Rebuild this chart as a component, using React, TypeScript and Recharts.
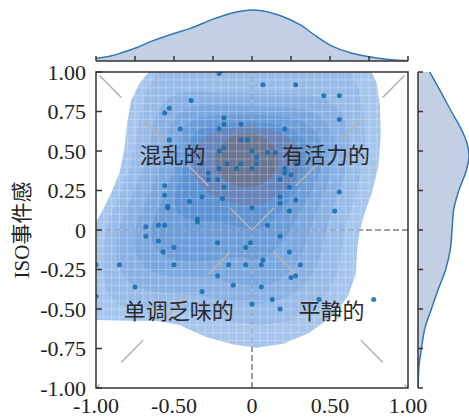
import React from 'react';
import {
    ScatterChart,
    Scatter,
    XAxis,
    YAxis,
    ReferenceLine,
    ReferenceArea,
    AreaChart,
    Area
} from 'recharts';

const W = 469;
const H = 420;

// axis ticks
const mainTicksX = [-1, -0.5, 0, 0.5, 1];
const mainTicksY = [-1, -0.75, -0.5, -0.25, 0, 0.25, 0.5, 0.75, 1];
const marginTicks = [-1, -0.75, -0.5, -0.25, 0, 0.25, 0.5, 0.75, 1];

// top marginal density (x value, density)
const topX = [-1, -0.9, -0.846, -0.75, -0.654, -0.5, -0.39, -0.25, -0.12, 0, 0.07, 0.2, 0.31, 0.415, 0.52, 0.63, 0.75, 0.875, 1];
const topD = [0.05, 0.1, 0.145, 0.24, 0.36, 0.52, 0.62, 0.79, 0.91, 0.962, 0.945, 0.835, 0.68, 0.46, 0.27, 0.157, 0.08, 0.03, 0.006];

// right marginal density (y value, density)
const rightY = [-1, -0.86, -0.75, -0.61, -0.5, -0.38, -0.25, -0.12, 0, 0.13, 0.25, 0.38, 0.47, 0.55, 0.617, 0.75, 0.866, 1];
const rightD = [0.0, 0.02, 0.067, 0.145, 0.263, 0.392, 0.543, 0.635, 0.667, 0.7, 0.8, 0.95, 1.0, 0.96, 0.88, 0.655, 0.46, 0.23];

// scatter points [x, y]
const dots: [number, number][] = [
    [-0.21, 0.99], [0.07, 0.92], [0.28, 0.92], [0.46, 0.85], [0.56, 0.85], [-0.39, 0.82],
    [-0.53, 0.77], [-0.56, 0.74], [-0.18, 0.71], [-0.18, 0.67], [-0.21, 0.64], [-0.46, 0.64],
    [-0.07, 0.67], [0.21, 0.64], [0.56, 0.7], [-0.07, 0.57], [-0.03, 0.57], [-0.18, 0.52],
    [0.0, 0.5], [0.1, 0.49], [0.15, 0.49], [0.03, 0.46], [-0.21, 0.5], [-0.53, 0.57],
    [-0.32, 0.42], [-0.21, 0.39], [-0.16, 0.42], [-0.1, 0.39], [-0.07, 0.42], [0.0, 0.39],
    [0.03, 0.42], [0.28, 0.42], [0.21, 0.39], [-0.28, 0.36], [0.21, 0.36], [0.25, 0.35],
    [-0.28, 0.32], [-0.22, 0.32], [0.18, 0.32], [-0.18, 0.27], [0.24, 0.27], [-0.56, 0.28],
    [-0.56, 0.22], [-0.32, 0.21], [-0.19, 0.2], [-0.4, 0.18], [0.18, 0.21], [0.18, 0.17],
    [0.28, 0.19], [0.56, 0.24], [-0.54, 0.15], [-0.54, 0.14], [0.0, 0.14], [0.24, 0.12],
    [0.53, 0.12], [-0.35, 0.07], [-0.35, 0.05], [-0.68, 0.02], [-0.6, 0.03], [-0.56, 0.03],
    [0.1, 0.03], [-0.68, -0.04], [-0.6, -0.07], [-0.5, -0.11], [-0.57, -0.14], [-0.22, -0.08],
    [-0.01, -0.08], [-0.04, -0.11], [0.18, -0.04], [0.24, -0.14], [-1.0, -0.22], [-0.85, -0.22],
    [-0.5, -0.22], [-0.15, -0.22], [-0.04, -0.22], [0.06, -0.22], [0.07, -0.19], [0.31, -0.22],
    [-0.22, -0.29], [0.25, -0.3], [0.28, -0.29], [-0.12, -0.35], [0.06, -0.36], [-0.75, -0.36],
    [-0.32, -0.39], [-1.0, -0.42], [0.13, -0.44], [0.43, -0.44], [0.78, -0.44], [0.0, -0.47],
    [0.18, -0.5]
];

// quadrant labels
const quadLabels = ['混乱的', '有活力的', '单调乏味的', '平静的'];
const quadX = [-0.51, 0.475, -0.47, 0.51];
const quadY = [0.49, 0.49, -0.5, -0.5];

// KDE contour outlines, outer -> inner
const level1: [number, number][] = [
    [-0.66, 1.0], [-0.3, 1.0], [0.2, 1.0], [0.767, 1.0],
    [0.8, 0.93], [0.82, 0.79], [0.825, 0.6], [0.81, 0.4], [0.77, 0.24], [0.72, 0.1], [0.69, -0.01],
    [0.675, -0.12], [0.665, -0.28], [0.615, -0.42], [0.51, -0.55], [0.36, -0.655], [0.2, -0.72],
    [0.03, -0.745], [-0.12, -0.725], [-0.3, -0.675], [-0.47, -0.6], [-0.62, -0.575], [-0.8, -0.575],
    [-1.0, -0.57], [-1.0, -0.3], [-1.0, 0.05], [-0.96, 0.12], [-0.9, 0.24], [-0.85, 0.36],
    [-0.82, 0.5], [-0.8, 0.68], [-0.775, 0.82], [-0.72, 0.93]
];
const level2: [number, number][] = [
    [-0.6, 1.0], [0.0, 1.0], [0.63, 1.0],
    [0.68, 0.9], [0.715, 0.75], [0.725, 0.55], [0.7, 0.36], [0.65, 0.18], [0.6, 0.03], [0.575, -0.12],
    [0.55, -0.26], [0.49, -0.39], [0.39, -0.5], [0.24, -0.575], [0.05, -0.605], [-0.12, -0.58],
    [-0.3, -0.535], [-0.48, -0.5], [-0.66, -0.49], [-0.84, -0.48], [-0.93, -0.4], [-0.96, -0.22],
    [-0.945, -0.04], [-0.9, 0.1], [-0.84, 0.24], [-0.78, 0.4], [-0.74, 0.58], [-0.71, 0.76], [-0.67, 0.9]
];
const level3: [number, number][] = [
    [-0.52, 0.88], [-0.3, 0.875], [-0.05, 0.86], [0.2, 0.865], [0.45, 0.85], [0.58, 0.76], [0.63, 0.6],
    [0.615, 0.42], [0.56, 0.25], [0.5, 0.09], [0.46, -0.06], [0.43, -0.2], [0.36, -0.34], [0.22, -0.44],
    [0.03, -0.48], [-0.15, -0.45], [-0.35, -0.41], [-0.55, -0.4], [-0.74, -0.38], [-0.86, -0.26],
    [-0.88, -0.06], [-0.81, 0.12], [-0.73, 0.3], [-0.66, 0.5], [-0.63, 0.72]
];
const level4: [number, number][] = [
    [-0.47, 0.79], [-0.2, 0.79], [0.05, 0.78], [0.3, 0.78], [0.46, 0.72], [0.54, 0.57], [0.525, 0.4],
    [0.46, 0.22], [0.39, 0.06], [0.34, -0.11], [0.26, -0.26], [0.13, -0.35], [0.0, -0.365],
    [-0.13, -0.33], [-0.3, -0.3], [-0.5, -0.3], [-0.68, -0.27], [-0.77, -0.13], [-0.75, 0.04],
    [-0.67, 0.2], [-0.59, 0.38], [-0.55, 0.6]
];
const level5: [number, number][] = [
    [-0.42, 0.71], [-0.15, 0.73], [0.1, 0.73], [0.3, 0.71], [0.42, 0.63], [0.465, 0.48], [0.425, 0.32],
    [0.345, 0.18], [0.275, 0.05], [0.2, -0.08], [0.1, -0.18], [0.0, -0.19], [-0.1, -0.16], [-0.25, -0.2],
    [-0.45, -0.21], [-0.6, -0.16], [-0.67, -0.03], [-0.61, 0.12], [-0.53, 0.28], [-0.48, 0.45], [-0.46, 0.6]
];
const level6: [number, number][] = [
    [-0.36, 0.65], [-0.1, 0.69], [0.12, 0.68], [0.29, 0.63], [0.38, 0.51], [0.37, 0.37], [0.29, 0.25],
    [0.19, 0.12], [0.08, 0.02], [0.0, -0.01], [-0.1, 0.03], [-0.25, 0.05], [-0.4, 0.06], [-0.51, 0.12],
    [-0.49, 0.26], [-0.43, 0.41], [-0.41, 0.54]
];
const level7: [number, number][] = [
    [-0.3, 0.61], [-0.1, 0.66], [0.1, 0.65], [0.25, 0.59], [0.33, 0.48], [0.31, 0.35], [0.21, 0.24],
    [0.08, 0.16], [-0.05, 0.15], [-0.2, 0.19], [-0.33, 0.26], [-0.39, 0.38], [-0.37, 0.51]
];
const level8: [number, number][] = [
    [0.178, 0.441], [0.15, 0.53], [0.072, 0.594], [-0.034, 0.618], [-0.14, 0.594], [-0.218, 0.53],
    [-0.246, 0.441], [-0.218, 0.352], [-0.14, 0.288], [-0.034, 0.264], [0.072, 0.288], [0.15, 0.352]
];

const contourLevels = [level1, level2, level3, level4, level5, level6, level7, level8];
const contourColors = ['#a6c5ec', '#98bbe8', '#89b1e4', '#7ba8df', '#6c9dd9', '#5e93d3', '#6784bb', '#6b7692'];
const contourCurves = ['linearClosed', 'linearClosed', 'basisClosed', 'basisClosed', 'basisClosed', 'basisClosed', 'basisClosed', 'basisClosed'];

// fine mesh drawn over the filled contours
const meshValues = Array.from({ length: 39 }, (_, i) => Math.round((-0.95 + i * 0.05) * 100) / 100);

const fmt = (v: number) => (v === 0 ? '0' : v.toFixed(2));
const blank = () => '';

const tickFont = { fontSize: 22, fontFamily: '"Liberation Serif", serif', fill: '#222' };
const cjkFont = '"Noto Sans CJK SC", sans-serif';

const YLabel = (props: any) => {
    const vb = props.viewBox || { x: 0, y: 72, width: 96, height: 316 };
    const cx = vb.x + 21.5;
    const cy = vb.y + vb.height / 2;
    return (
        <text
            x={cx}
            y={cy}
            transform={`rotate(-90 ${cx} ${cy})`}
            textAnchor="middle"
            dominantBaseline="central"
            fontSize={21}
            fontFamily={'"Liberation Serif", "Noto Sans CJK SC", serif'}
            fill="#222"
        >
            ISO事件感
        </text>
    );
};

const App = () => {
    const dotData = dots.map(([x, y]) => ({ x, y }));
    const labelData = quadLabels.map((label, i) => ({ x: quadX[i], y: quadY[i], label }));
    const topData = topX.map((x, i) => ({ x, d: topD[i] }));
    const rightData = rightY.map((y, i) => ({ y, d: rightD[i] }));
    const frameLine = { stroke: '#333', strokeWidth: 1.5 };

    return (
        <div style={{ position: 'absolute', left: 0, top: 0, width: W, height: H }}>
            {/* main joint plot */}
            <div style={{ position: 'absolute', left: 0, top: 0 }}>
                <ScatterChart width={W} height={H} margin={{ top: 72, right: 61, bottom: 0, left: 0 }}>
                    <XAxis
                        dataKey="x"
                        type="number"
                        domain={[-1, 1]}
                        allowDataOverflow
                        ticks={mainTicksX}
                        tickFormatter={fmt}
                        tick={tickFont}
                        tickLine={false}
                        axisLine={false}
                        tickSize={0}
                        tickMargin={9}
                        height={32}
                    />
                    <XAxis
                        xAxisId="xm"
                        type="number"
                        domain={[-1, 1]}
                        allowDataOverflow
                        ticks={mainTicksX}
                        tickFormatter={blank}
                        mirror
                        tickSize={6}
                        tickLine={frameLine}
                        axisLine={false}
                        height={10}
                    />
                    <YAxis
                        dataKey="y"
                        type="number"
                        domain={[-1, 1]}
                        allowDataOverflow
                        ticks={mainTicksY}
                        tickFormatter={fmt}
                        tick={tickFont}
                        tickLine={false}
                        axisLine={false}
                        tickSize={0}
                        tickMargin={10}
                        width={96}
                        label={<YLabel />}
                    />
                    <YAxis
                        yAxisId="ym"
                        type="number"
                        domain={[-1, 1]}
                        allowDataOverflow
                        ticks={mainTicksY}
                        tickFormatter={blank}
                        mirror
                        tickSize={6}
                        tickLine={frameLine}
                        axisLine={false}
                        width={10}
                    />

                    <ReferenceLine x={0} stroke="#7f7f7f" strokeWidth={1.5} strokeDasharray="6 3" zIndex={50} />
                    <ReferenceLine y={0} stroke="#7f7f7f" strokeWidth={1.5} strokeDasharray="6 3" zIndex={50} />

                    {contourLevels.map((lvl, i) => (
                        <Scatter
                            key={`lvl-${i}`}
                            data={lvl.map(([x, y]) => ({ x, y }))}
                            fill={contourColors[i]}
                            line={{ fill: contourColors[i], stroke: 'none' }}
                            lineType="joint"
                            lineJointType={contourCurves[i] as any}
                            shape={() => <g />}
                            isAnimationActive={false}
                            zIndex={100}
                        />
                    ))}

                    {/* mesh lines */}
                    {meshValues.map((v) => (
                        <ReferenceLine key={`mx-${v}`} x={v} stroke="#ffffff" strokeOpacity={0.25} strokeWidth={1} zIndex={150} />
                    ))}
                    {meshValues.map((v) => (
                        <ReferenceLine key={`my-${v}`} y={v} stroke="#ffffff" strokeOpacity={0.25} strokeWidth={1} zIndex={150} />
                    ))}

                    <ReferenceLine x={0} stroke="#7f7f7f" strokeOpacity={0.4} strokeWidth={1.5} strokeDasharray="6 3" zIndex={160} />
                    <ReferenceLine y={0} stroke="#7f7f7f" strokeOpacity={0.4} strokeWidth={1.5} strokeDasharray="6 3" zIndex={160} />

                    <ReferenceLine segment={[{ x: 0, y: 0 }, { x: -1, y: 1 }]} stroke="#b9b3ad" strokeWidth={1.5} strokeDasharray="31 31" zIndex={200} />
                    <ReferenceLine segment={[{ x: 0, y: 0 }, { x: 1, y: 1 }]} stroke="#b9b3ad" strokeWidth={1.5} strokeDasharray="31 31" zIndex={200} />
                    <ReferenceLine segment={[{ x: 0, y: 0 }, { x: -1, y: -1 }]} stroke="#b9b3ad" strokeWidth={1.5} strokeDasharray="31 31" strokeDashoffset={31} zIndex={200} />
                    <ReferenceLine segment={[{ x: 0, y: 0 }, { x: 1, y: -1 }]} stroke="#b9b3ad" strokeWidth={1.5} strokeDasharray="31 31" strokeDashoffset={31} zIndex={200} />

                    <Scatter
                        data={dotData}
                        fill="#1f72b0"
                        shape={(p: any) => <circle cx={p.cx} cy={p.cy} r={2.5} fill="#1c6fae" fillOpacity={0.9} />}
                        isAnimationActive={false}
                        zIndex={600}
                    />

                    <Scatter
                        data={labelData}
                        fill="#2b2b2b"
                        shape={(p: any) => (
                            <text
                                x={p.cx}
                                y={p.cy}
                                textAnchor="middle"
                                dominantBaseline="central"
                                fontSize={22}
                                fontFamily={cjkFont}
                                fill="#2b2b2b"
                            >
                                {p.payload.label}
                            </text>
                        )}
                        isAnimationActive={false}
                        zIndex={700}
                    />

                    <ReferenceArea x1={-1} x2={1} y1={-1} y2={1} fill="none" stroke="#333" strokeWidth={1.5} zIndex={800} />
                </ScatterChart>
            </div>

            {/* top marginal KDE */}
            <div style={{ position: 'absolute', left: 0, top: 0 }}>
                <AreaChart width={W} height={62} data={topData} margin={{ top: 8, right: 61, bottom: 1, left: 96 }}>
                    <XAxis
                        dataKey="x"
                        type="number"
                        domain={[-1, 1]}
                        allowDataOverflow
                        ticks={marginTicks}
                        tickFormatter={blank}
                        mirror
                        tickSize={5}
                        tickLine={frameLine}
                        axisLine={frameLine}
                        height={10}
                    />
                    <YAxis hide type="number" domain={[0, 1]} allowDataOverflow />
                    <Area
                        dataKey="d"
                        type="monotone"
                        fill="#c3cfe3"
                        fillOpacity={1}
                        stroke="#2f78b5"
                        strokeWidth={1.5}
                        isAnimationActive={false}
                    />
                </AreaChart>
            </div>

            {/* right marginal KDE */}
            <div style={{ position: 'absolute', left: 0, top: 0 }}>
                <AreaChart layout="vertical" width={W} height={H} data={rightData} margin={{ top: 72, right: 0, bottom: 32, left: 418 }}>
                    <XAxis hide type="number" domain={[0, 1]} allowDataOverflow />
                    <YAxis
                        dataKey="y"
                        type="number"
                        domain={[-1, 1]}
                        reversed
                        allowDataOverflow
                        ticks={marginTicks}
                        tickFormatter={blank}
                        mirror
                        tickSize={5}
                        tickLine={frameLine}
                        axisLine={frameLine}
                        width={10}
                    />
                    <Area
                        dataKey="d"
                        type="monotone"
                        fill="#c3cfe3"
                        fillOpacity={1}
                        stroke="#2f78b5"
                        strokeWidth={1.5}
                        isAnimationActive={false}
                    />
                </AreaChart>
            </div>
        </div>
    );
};

export default App;
